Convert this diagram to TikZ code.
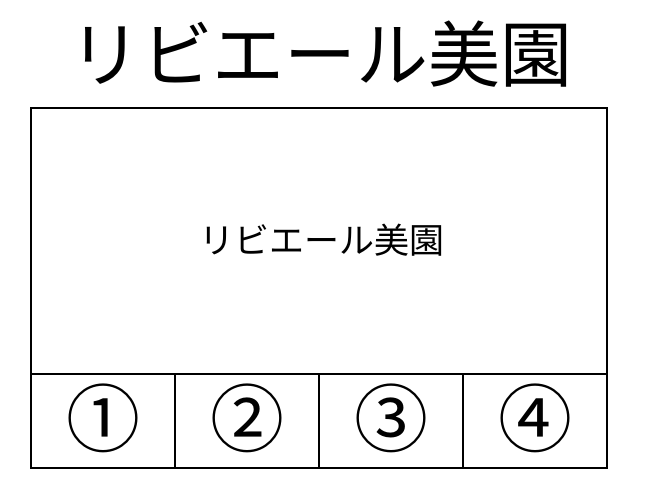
\documentclass[tikz,border=0pt]{standalone}
\usepackage{fontspec}
\newfontfamily\cjk{Noto Sans CJK JP}
\usetikzlibrary{positioning}
\tikzset{
    x=1pt, y=-1pt,
    frame/.style={draw, line width=1.6pt},
    lbl/.style={font=\cjk, inner sep=0pt},
    num/.style={font=\cjk\fontsize{74}{74}\selectfont, inner sep=0pt}
}

\begin{document}
\begin{tikzpicture}
    \useasboundingbox (0,0) rectangle (654,495);
    \node[lbl, font=\cjk\fontsize{72}{72}\selectfont] (title) at (321,54) {リビエール美園};
    \draw[frame] (31,108) rectangle (607,468);
    \coordinate (split) at (31,374);
    \draw[frame] (split) -- (607,374);
    \node[lbl, font=\cjk\fontsize{35}{35}\selectfont] (name) at (322,240) {リビエール美園};
    \foreach \i/\x in {1/175, 2/319, 3/463} {
        \draw[frame] (\x,374) -- (\x,468);
    }
    \node[num] (p1) at (103,418) {①};
    \node[num] (p2) at (247,418) {②};
    \node[num] (p3) at (391,418) {③};
    \node[num] (p4) at (535,418) {④};
\end{tikzpicture}
\end{document}
